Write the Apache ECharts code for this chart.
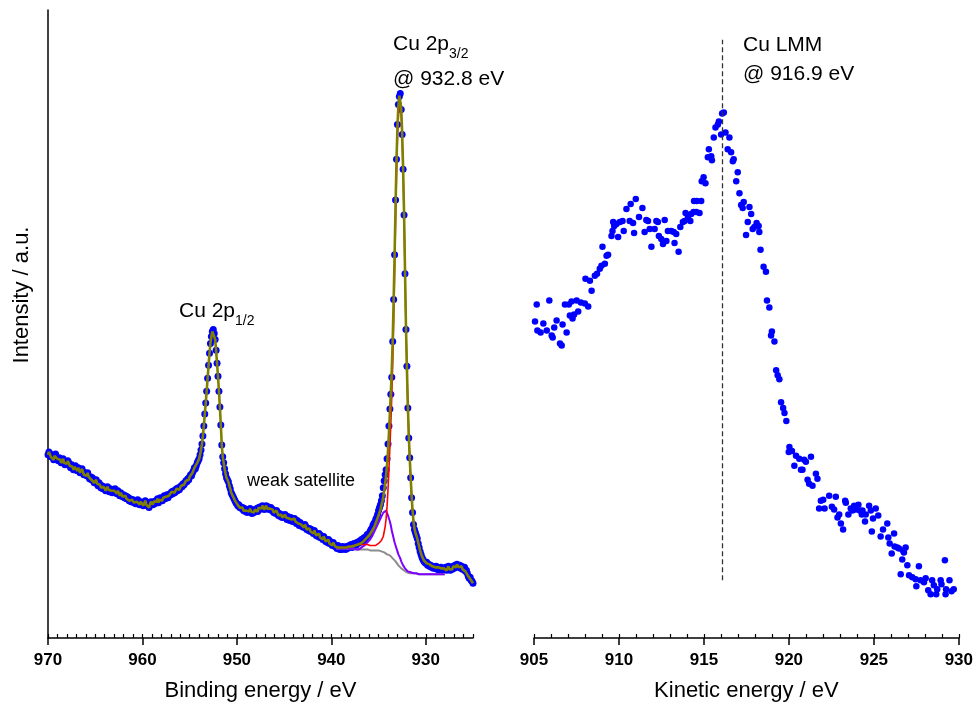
<!DOCTYPE html>
<html>
<head>
<meta charset="utf-8">
<script src="https://cdn.jsdelivr.net/npm/echarts@6/dist/echarts.min.js"></script>
<style>
  html, body { margin: 0; padding: 0; background: #fff; }
  #chart { width: 976px; height: 707px; }
</style>
</head>
<body>
<div id="chart"></div>
<script>
// ---------------- Cu 2p region (binding energy, 970.0 -> 925.0 eV, 0.1 eV step) ----------------
const beStart = 970.0;
const beStep = 0.1;
const cu2pCounts = [
  184, 187, 185, 182, 184, 182, 179, 183, 185, 181,
  180, 178, 181, 179, 176, 178, 180, 176, 174, 177,
  175, 178, 176, 173, 171, 174, 172, 169, 172, 173,
  170, 168, 171, 169, 166, 168, 170, 167, 164, 166,
  165, 163, 166, 162, 160, 162, 159, 161, 158, 156,
  157, 159, 155, 153, 156, 154, 151, 153, 150, 152,
  151, 148, 150, 152, 149, 147, 150, 148, 146, 149,
  148, 150, 147, 145, 148, 146, 143, 146, 144, 142,
  144, 141, 143, 140, 142, 141, 138, 140, 137, 139,
  139, 136, 138, 135, 137, 139, 135, 134, 137, 135,
  136, 133, 135, 138, 134, 136, 133, 131, 134, 137,
  136, 134, 137, 135, 138, 137, 140, 136, 139, 141,
  140, 138, 141, 143, 140, 142, 144, 141, 143, 145,
  144, 147, 145, 148, 146, 147, 150, 148, 151, 149,
  151, 153, 152, 155, 154, 156, 158, 157, 160, 159,
  162, 164, 163, 166, 168, 171, 170, 173, 176, 178,
  180, 184, 189, 195, 203, 213, 225, 236, 248, 261,
  274, 286, 296, 303, 308, 310, 306, 300, 289, 276,
  263, 248, 232, 214, 194, 182, 176, 170, 165, 161,
  159, 157, 153, 150, 146, 144, 142, 140, 138, 136,
  135, 133, 134, 131, 132, 130, 131, 128, 130, 127,
  128, 126, 129, 127, 130, 127, 125, 128, 126, 129,
  128, 130, 127, 131, 129, 132, 130, 133, 131, 129,
  131, 133, 130, 132, 129, 130, 131, 128, 129, 126,
  127, 125, 128, 126, 123, 125, 122, 124, 121, 123,
  122, 124, 121, 119, 122, 120, 118, 121, 119, 117,
  118, 120, 117, 115, 118, 115, 113, 116, 114, 112,
  113, 111, 114, 112, 109, 110, 108, 110, 107, 109,
  107, 105, 108, 106, 103, 104, 102, 105, 101, 103,
  101, 99, 102, 100, 97, 98, 96, 99, 95, 97,
  95, 93, 96, 94, 92, 92, 90, 93, 91, 89,
  91, 89, 92, 90, 91, 89, 92, 90, 91, 93,
  92, 94, 91, 93, 95, 94, 93, 96, 95, 97,
  96, 98, 99, 97, 100, 101, 99, 102, 104, 103,
  105, 107, 109, 110, 113, 115, 116, 119, 121, 124,
  128, 131, 134, 138, 143, 151, 158, 164, 169, 180,
  195, 213, 230, 245, 262, 298, 340, 385, 440, 481,
  516, 536, 544, 547, 531, 506, 471, 425, 366, 310,
  273, 231, 201, 181, 161, 141, 126, 114, 109, 106,
  103, 100, 95, 91, 87, 84, 81, 79, 77, 76,
  75, 76, 73, 74, 72, 73, 71, 72, 70, 71,
  70, 72, 69, 70, 68, 69, 71, 68, 70, 69,
  69, 71, 68, 70, 72, 69, 68, 71, 69, 72,
  70, 73, 71, 74, 72, 71, 73, 70, 72, 69,
  69, 71, 67, 68, 65, 62, 60, 61, 58, 57,
  55
];

// ---------------- peak fit (939.5 -> 928.0 eV, 0.1 eV step) ----------------
const fitStart = 939.5;
const fitEnvelope = [
  91, 91, 91, 91, 91, 91,
  91, 91, 91, 91, 91, 91, 91, 91, 92, 92,
  92, 92, 93, 93, 93, 93, 94, 94, 94, 95,
  95, 96, 97, 97, 98, 99, 100, 101, 102, 103,
  104, 106, 107, 109, 111, 113, 115, 118, 120, 123,
  126, 129, 133, 137, 142, 148, 155, 163, 174, 188,
  206, 226, 246, 270, 300, 340, 385, 435, 479, 514,
  535, 545, 547, 533, 507, 472, 427, 370, 314, 272,
  234, 204, 181, 161, 143, 128, 117, 110, 106, 103,
  100, 96, 92, 88, 85, 82, 80, 78, 77, 76,
  75, 75, 74, 74, 73, 73, 72, 72, 72, 71,
  71, 71, 71, 70, 70, 70, 70, 70, 70, 70
];
const fitCuMetal = [
  91, 91, 91, 91, 91, 91,
  91, 91, 91, 91, 91, 91, 91, 91, 92, 92,
  92, 92, 93, 93, 93, 93, 94, 94, 94, 94,
  94, 94, 95, 94, 94, 94, 94, 94, 94, 94,
  93, 93, 93, 93, 93, 93, 93, 94, 94, 95,
  95, 96, 98, 99, 102, 107, 112, 120, 132, 149,
  169, 192, 215, 243, 276, 319, 367, 419, 465, 502,
  524, 535, 538, 526, 501, 467, 424, 367, 312, 270,
  233, 203, 180, 160, 142, 128, 117, 110, 106, 103,
  100, 96, 92, 88, 85, 82, 80, 78, 77, 76,
  75, 75, 74, 74, 73, 73, 72, 72, 72, 71,
  71, 71, 71, 70, 70, 70, 70, 70, 70, 70
];
const fitShoulder = [
  90, 90, 90, 90, 90, 90,
  90, 90, 90, 90, 90, 90, 90, 90, 90, 90,
  90, 90, 90, 90, 89, 89, 89, 89, 89, 90,
  90, 91, 91, 92, 93, 94, 95, 96, 97, 98,
  99, 101, 102, 104, 106, 108, 110, 112, 114, 116,
  118, 120, 122, 124, 126, 127, 128, 128, 126, 123,
  120, 117, 113, 108, 104, 100, 96, 93, 90, 87,
  84, 82, 80, 77, 75, 73, 71, 70, 69, 68,
  67, 67, 66, 66, 66, 65, 65, 65, 65, 65,
  64, 64, 64, 64, 64, 64, 64, 64, 64, 64,
  64, 64, 64, 64, 64, 64, 64, 64, 64, 64,
  64, 64, 64, 64, 64, 64, 64, 64, 64, 64
];
const fitBackground = [
  90, 90, 90, 90, 90, 90,
  90, 90, 90, 90, 90, 90, 90, 90, 90, 90,
  90, 90, 90, 90, 89, 89, 89, 89, 89, 89,
  89, 89, 89, 89, 89, 89, 89, 89, 89, 89,
  88, 88, 88, 88, 88, 88, 88, 88, 88, 88,
  87, 87, 87, 86, 86, 86, 85, 85, 84, 84,
  83, 83, 82, 81, 80, 79, 78, 77, 76, 75,
  73, 72, 71, 70, 69, 68, 68, 67, 67, 66,
  66, 66, 65, 65, 65, 65, 65, 65, 65, 65,
  64, 64, 64, 64, 64, 64, 64, 64, 64, 64,
  64, 64, 64, 64, 64, 64, 64, 64, 64, 64,
  64, 64, 64, 64, 64, 64, 64, 64, 64, 64
];

// ---------------- Cu LMM Auger region (kinetic energy) ----------------
const augerKE = [
  905.06, 905.16, 905.20, 905.39, 905.55, 905.75, 905.90, 906.04, 906.10, 906.19,
  906.33, 906.53, 906.63, 906.68, 906.82, 906.92, 907.05, 907.11, 907.21, 907.27,
  907.36, 907.51, 907.60, 907.76, 907.99, 908.03, 908.19, 908.29, 908.39, 908.58,
  908.71, 908.87, 908.97, 909.03, 909.17, 909.27, 909.36, 909.56, 909.62, 909.66,
  909.72, 909.85, 909.95, 910.05, 910.21, 910.28, 910.44, 910.63, 910.69, 910.83,
  910.89, 910.99, 911.18, 911.38, 911.51, 911.61, 911.71, 911.81, 911.91, 912.10,
  912.20, 912.29, 912.35, 912.49, 912.59, 912.69, 912.79, 912.88, 913.08, 913.22,
  913.27, 913.37, 913.51, 913.61, 913.76, 913.86, 913.92, 914.06, 914.20, 914.25,
  914.39, 914.42, 914.55, 914.58, 914.74, 914.84, 914.87, 914.98, 915.09, 915.23,
  915.29, 915.43, 915.47, 915.58, 915.68, 915.82, 915.88, 916.01, 916.07, 916.17,
  916.27, 916.40, 916.50, 916.60, 916.70, 916.75, 916.90, 916.99, 917.09, 917.19,
  917.28, 917.34, 917.48, 917.58, 917.68, 917.78, 917.87, 917.97, 918.10, 918.22,
  918.26, 918.33, 918.51, 918.65, 918.71, 918.85, 918.95, 919.00, 919.15, 919.25,
  919.34, 919.44, 919.54, 919.66, 919.74, 919.85, 919.99, 920.03, 920.18, 920.32,
  920.42, 920.61, 920.71, 920.80, 920.90, 921.00, 921.10, 921.19, 921.30, 921.39,
  921.59, 921.68, 921.78, 921.88, 922.02, 922.10, 922.37, 922.53, 922.66, 922.76,
  922.86, 922.96, 923.06, 923.19, 923.31, 923.35, 923.50, 923.64, 923.74, 923.84,
  923.94, 924.09, 924.17, 924.29, 924.33, 924.48, 924.52, 924.72, 924.82, 924.88,
  924.95, 925.11, 925.26, 925.40, 925.54, 925.79, 925.85, 925.93, 926.05, 926.19,
  926.22, 926.38, 926.48, 926.58, 926.67, 926.71, 926.77, 926.87, 926.97, 927.07,
  927.26, 927.46, 927.50, 927.65, 927.75, 927.95, 928.05, 928.20, 928.34, 928.43,
  928.53, 928.67, 928.73, 928.93, 928.98, 929.18, 929.22, 929.25, 929.45, 929.57,
  929.70
];
const augerCounts = [
  318, 335, 309, 307, 316, 309, 339, 304, 302, 312,
  319, 296, 294, 315, 335, 307, 335, 324, 338, 321,
  325, 339, 328, 337, 336, 361, 333, 359, 349, 364,
  366, 371, 374, 393, 376, 384, 385, 404, 409, 418,
  414, 416, 403, 418, 419, 409, 431, 419, 436, 417,
  407, 441, 423, 432, 408, 420, 419, 411, 393, 411,
  419, 418, 404, 401, 396, 420, 399, 409, 409, 408,
  397, 406, 388, 413, 418, 419, 427, 423, 419, 426,
  428, 439, 428, 439, 427, 439, 459, 463, 457, 483,
  491, 484, 480, 503, 513, 516, 519, 506, 527, 528,
  508, 491, 503, 488, 479, 481, 459, 468, 447, 435,
  432, 438, 405, 418, 433, 426, 411, 413, 417, 414,
  408, 390, 373, 368, 339, 332, 304, 308, 298, 269,
  264, 260, 237, 231, 226, 218, 187, 192, 188, 173,
  183, 180, 169, 169, 179, 177, 159, 155, 182, 153,
  165, 160, 130, 138, 139, 130, 143, 132, 129, 142,
  121, 124, 115, 109, 138, 136, 124, 130, 128, 133,
  129, 134, 128, 124, 128, 117, 124, 133, 128, 107,
  120, 130, 123, 102, 109, 115, 101, 95, 85, 105,
  92, 91, 90, 64, 79, 88, 86, 91, 73, 63,
  61, 59, 52, 72, 58, 56, 60, 48, 44, 58,
  53, 44, 49, 58, 54, 78, 44, 49, 58, 47,
  49
];
const lmmMarkerKE = 916.1;
const lmmMarkerSpan = [58, 601];

// ---------------- axis ticks ----------------
const beLabelTicks = [930, 940, 950, 960, 970];
const beRange = [925, 970];
const keRange = [905, 930];
const yRange = [0, 631];

// ---------------- build series data ----------------
const r1 = v => Math.round(v * 10) / 10;
const bePoints = cu2pCounts.map((c, i) => [r1(beStart - i * beStep), c]);
const fitOffset = Math.round((beStart - fitStart) / beStep);
const fitBE = fitEnvelope.map((_, i) => r1(fitStart - i * beStep));
const olivePoints = cu2pCounts.map((c, i) => {
  const j = i - fitOffset;
  const y = (j >= 0 && j < fitEnvelope.length) ? fitEnvelope[j] : c;
  return [r1(beStart - i * beStep), y];
});
const pairs = (xs, ys) => ys.map((y, i) => [xs[i], y]);
const augerPoints = pairs(augerKE, augerCounts);

const FONT = '"Liberation Sans", Arial, Helvetica, sans-serif';
const chart = echarts.init(document.getElementById('chart'), null, { renderer: 'canvas' });

const labelStyle = { color: '#000', fontFamily: FONT, fontWeight: 'bold', fontSize: 17, margin: 14 };
const nameStyle = { color: '#000', fontFamily: FONT, fontSize: 22 };
const subRich = {
  m: { fontFamily: FONT, fontSize: 21, lineHeight: 34 },
  s: { fontFamily: FONT, fontSize: 14, lineHeight: 14, verticalAlign: 'bottom' }
};

chart.setOption({
  animation: false,
  backgroundColor: '#fff',
  grid: [
    { left: 48, right: 503, top: 10, bottom: 66 },
    { left: 534, right: 16, top: 10, bottom: 66 }
  ],
  xAxis: [
    {
      gridIndex: 0, type: 'value', min: beRange[0], max: beRange[1], inverse: true,
      name: 'Binding energy / eV', nameLocation: 'middle', nameGap: 42, nameTextStyle: nameStyle,
      axisLine: { show: true, onZero: false, lineStyle: { color: '#000', width: 1.5 } },
      axisTick: { show: true, inside: false, length: 7, customValues: beLabelTicks, lineStyle: { color: '#000', width: 1.5 } },
      axisLabel: Object.assign({ customValues: beLabelTicks }, labelStyle),
      splitLine: { show: false }
    },
    {
      gridIndex: 0, type: 'value', min: beRange[0], max: beRange[1], inverse: true, interval: 1,
      axisLine: { show: false }, axisLabel: { show: false }, splitLine: { show: false },
      axisTick: { show: true, inside: false, length: 4, lineStyle: { color: '#000', width: 1.2 } }
    },
    {
      gridIndex: 1, type: 'value', min: keRange[0], max: keRange[1], interval: 5,
      name: 'Kinetic energy / eV', nameLocation: 'middle', nameGap: 42, nameTextStyle: nameStyle,
      axisLine: { show: true, onZero: false, lineStyle: { color: '#000', width: 1.5 } },
      axisTick: { show: true, inside: false, length: 7, lineStyle: { color: '#000', width: 1.5 } },
      axisLabel: labelStyle,
      splitLine: { show: false }
    },
    {
      gridIndex: 1, type: 'value', min: keRange[0], max: keRange[1], interval: 1,
      axisLine: { show: false }, axisLabel: { show: false }, splitLine: { show: false },
      axisTick: { show: true, inside: false, length: 4, lineStyle: { color: '#000', width: 1.2 } }
    }
  ],
  yAxis: [
    {
      gridIndex: 0, type: 'value', min: yRange[0], max: yRange[1],
      axisLine: { show: true, onZero: false, lineStyle: { color: '#000', width: 1.5 } },
      axisTick: { show: false }, axisLabel: { show: false }, splitLine: { show: false }
    },
    {
      gridIndex: 1, type: 'value', min: yRange[0], max: yRange[1], show: false,
      splitLine: { show: false }
    }
  ],
  series: [
    {
      name: 'Cu 2p data', type: 'scatter', xAxisIndex: 0, yAxisIndex: 0, data: bePoints,
      symbolSize: 7, itemStyle: { color: '#0000ff', opacity: 1 }, z: 2
    },
    {
      name: 'background', type: 'line', xAxisIndex: 0, yAxisIndex: 0, data: pairs(fitBE, fitBackground),
      showSymbol: false, symbol: 'none', lineStyle: { color: '#8c8c8c', width: 2 }, z: 3
    },
    {
      name: 'shoulder', type: 'line', xAxisIndex: 0, yAxisIndex: 0, data: pairs(fitBE, fitShoulder),
      showSymbol: false, symbol: 'none', lineStyle: { color: '#8000ff', width: 2 }, z: 3
    },
    {
      name: 'Cu metal', type: 'line', xAxisIndex: 0, yAxisIndex: 0, data: pairs(fitBE, fitCuMetal),
      showSymbol: false, symbol: 'none', lineStyle: { color: '#ff0000', width: 1.6 }, z: 4
    },
    {
      name: 'envelope', type: 'line', xAxisIndex: 0, yAxisIndex: 0, data: olivePoints,
      showSymbol: false, symbol: 'none', lineStyle: { color: '#808000', width: 2.6 }, z: 5
    },
    {
      name: 'Cu LMM', type: 'scatter', xAxisIndex: 2, yAxisIndex: 1, data: augerPoints,
      symbolSize: 6.5, itemStyle: { color: '#0000ff', opacity: 1 }, z: 2,
      markLine: {
        silent: true, symbol: ['none', 'none'], label: { show: false },
        lineStyle: { color: '#333', width: 1.3, type: [5, 3] },
        data: [[{ coord: [lmmMarkerKE, lmmMarkerSpan[0]] }, { coord: [lmmMarkerKE, lmmMarkerSpan[1]] }]]
      }
    }
  ],
  graphic: [
    {
      type: 'text', x: 22, y: 295, rotation: Math.PI / 2,
      style: {
        text: 'Intensity / a.u.', fill: '#000', font: '22px ' + FONT,
        align: 'center', verticalAlign: 'middle', textAlign: 'center', textVerticalAlign: 'middle'
      }
    },
    {
      type: 'text', left: 179, top: 301,
      style: { text: '{m|Cu 2p}{s|1/2}', fill: '#000', font: '21px ' + FONT, rich: subRich }
    },
    {
      type: 'text', left: 393, top: 34,
      style: { text: '{m|Cu 2p}{s|3/2}', fill: '#000', font: '21px ' + FONT, rich: subRich }
    },
    { type: 'text', left: 393, top: 69, style: { text: '@ 932.8 eV', fill: '#000', font: '21px ' + FONT } },
    { type: 'text', left: 247, top: 472, style: { text: 'weak satellite', fill: '#000', font: '18px ' + FONT } },
    { type: 'text', left: 743, top: 35, style: { text: 'Cu LMM', fill: '#000', font: '21px ' + FONT } },
    { type: 'text', left: 743, top: 64, style: { text: '@ 916.9 eV', fill: '#000', font: '21px ' + FONT } }
  ]
});
</script>
</body>
</html>
